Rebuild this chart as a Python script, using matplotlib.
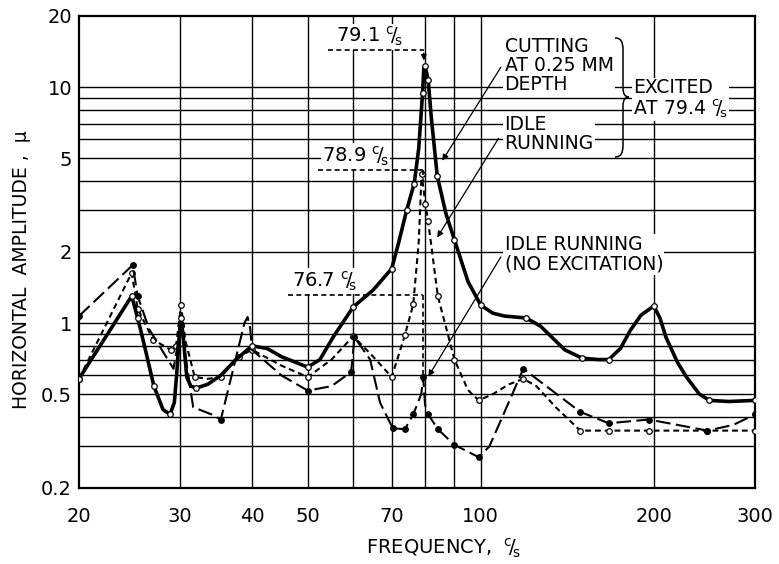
import matplotlib.pyplot as plt
from matplotlib.path import Path
import matplotlib.patches as patches
from matplotlib.ticker import NullLocator, NullFormatter

plt.rcParams['font.family'] = ['DejaVu Sans']
plt.rcParams['mathtext.fontset'] = 'dejavusans'

# cutting at 0.25 mm depth (solid)
cut_freq = [20, 24.7, 25.3, 26.0, 27.0, 28.0, 28.8, 29.3, 29.6, 29.9,
            30.1, 30.4, 30.8, 31.3, 32, 33.5, 35.3, 37.5, 40, 42.5,
            45, 50, 52.5, 55.5, 60, 65, 70, 72, 74.3, 76.6,
            78, 79.2, 79.6, 80, 80.5, 81, 82, 84, 87, 90,
            95, 100, 105, 110, 120, 127, 133, 140, 150, 160,
            167, 175, 182, 190, 200, 205, 210, 220, 228, 240,
            250, 270, 300]
cut_amp = [0.58, 1.30, 1.05, 0.80, 0.54, 0.43, 0.41, 0.46, 0.62, 0.90,
           1.05, 0.85, 0.59, 0.54, 0.53, 0.55, 0.60, 0.70, 0.80, 0.78,
           0.72, 0.65, 0.70, 0.88, 1.17, 1.38, 1.70, 2.2, 3.0, 3.9,
           5.5, 9.4, 12.0, 12.3, 11.5, 10.7, 7.5, 4.2, 2.9, 2.25,
           1.5, 1.19, 1.10, 1.07, 1.05, 0.97, 0.87, 0.77, 0.71, 0.70,
           0.70, 0.78, 0.93, 1.08, 1.18, 1.05, 0.87, 0.68, 0.59, 0.50,
           0.47, 0.465, 0.47]
cut_mark_freq = [20, 24.7, 25.3, 27.0, 28.8, 30.1, 32, 40, 50, 60, 70, 74.3, 76.6, 79.2,
                 80, 81, 84, 90, 100, 120, 150, 167, 200, 250, 300]

# idle running, excited (short dash)
idle_freq = [20, 24.7, 25.3, 26.9, 28.9, 29.5, 30.1, 30.6, 31.8, 33.5,
             35.3, 37.9, 40, 45, 50, 55, 60, 65, 70, 73.8,
             76.3, 78.0, 78.9, 80.1, 81, 84.2, 90, 95, 99.2, 105,
             112, 118.6, 125, 135, 149, 167, 196, 248, 300]
idle_amp = [0.58, 1.63, 1.15, 0.85, 0.77, 0.80, 1.19, 0.85, 0.59, 0.58,
            0.59, 0.72, 0.77, 0.66, 0.59, 0.70, 0.88, 0.72, 0.59, 0.89,
            1.20, 2.2, 4.3, 3.2, 2.7, 1.30, 0.70, 0.52, 0.47, 0.50,
            0.55, 0.58, 0.54, 0.44, 0.35, 0.35, 0.35, 0.35, 0.35]
idle_mark_freq = [20, 24.7, 25.3, 26.9, 28.9, 29.5, 30.1, 31.8, 35.3, 37.9, 40, 50, 60, 70,
                  73.8, 76.3, 78.9, 80.1, 81, 84.2, 90, 99.2, 118.6, 149, 167, 196, 248, 300]

# idle running, no excitation (long dash)
noex_freq = [20, 24.8, 25.3, 26.5, 29.2, 30.1, 30.7, 31.6, 34, 35.3,
             37.5, 38.8, 39.3, 39.7, 40, 45, 50, 55, 59.5, 60.3,
             64.2, 66.8, 70.3, 73.8, 76.3, 78.8, 79.4, 80, 81, 84.2,
             89.9, 99.2, 103.5, 110, 118.6, 130, 149, 167, 196, 220,
             248, 275, 300]
noex_amp = [1.07, 1.76, 1.30, 0.94, 0.64, 0.98, 0.70, 0.44, 0.41, 0.39,
            0.71, 1.00, 1.06, 0.95, 0.77, 0.60, 0.517, 0.54, 0.62, 0.87,
            0.70, 0.46, 0.358, 0.355, 0.41, 0.50, 0.59, 0.45, 0.41, 0.355,
            0.305, 0.27, 0.30, 0.42, 0.64, 0.54, 0.42, 0.376, 0.39, 0.37,
            0.35, 0.37, 0.41]
noex_mark_freq = [20, 24.8, 25.3, 30.1, 35.3, 50, 59.5, 60.3, 70.3, 73.8, 76.3, 79.4, 81,
                  84.2, 89.9, 99.2, 118.6, 149, 167, 196, 248, 300]

xtick_vals = [20, 30, 40, 50, 70, 100, 200, 300]
xtick_labels = ['20', '30', '40', '50', '70', '100', '200', '300']
ytick_vals = [0.2, 0.5, 1, 2, 5, 10, 20]
ytick_labels = ['0.2', '0.5', '1', '2', '5', '10', '20']
grid_x = [30, 40, 50, 60, 70, 80, 90, 100, 200]
grid_y = [0.3, 0.4, 0.5, 0.6, 0.7, 0.8, 0.9, 1, 2, 3, 4, 5, 6, 7, 8, 9, 10]

fig = plt.figure(figsize=(7.79, 5.64), dpi=100)
ax = fig.add_axes([0.1014, 0.1348, 0.8678, 0.8369])
ax.set_xscale('log')
ax.set_yscale('log')
ax.set_xlim(20, 300)
ax.set_ylim(0.2, 20)

for v in grid_x:
    ax.axvline(v, color='black', lw=1.0, zorder=1)
for h in grid_y:
    ax.axhline(h, color='black', lw=1.0, zorder=1)

ax.xaxis.set_minor_locator(NullLocator())
ax.yaxis.set_minor_locator(NullLocator())
ax.xaxis.set_minor_formatter(NullFormatter())
ax.yaxis.set_minor_formatter(NullFormatter())
ax.set_xticks(xtick_vals)
ax.set_xticklabels(xtick_labels)
ax.set_yticks(ytick_vals)
ax.set_yticklabels(ytick_labels)
ax.tick_params(axis='x', length=0, pad=14, labelsize=14)
ax.tick_params(axis='y', length=0, pad=5, labelsize=14)
for s in ax.spines.values():
    s.set_linewidth(1.6)

# curves
ax.plot(cut_freq, cut_amp, color='black', lw=2.6, marker='o', ms=4, mfc='white',
        mec='black', mew=0.9, markevery=[cut_freq.index(f) for f in cut_mark_freq], zorder=5)
ax.plot(idle_freq, idle_amp, color='black', lw=1.5, ls=(0, (2.8, 1.9)), marker='o', ms=4,
        mfc='white', mec='black', mew=0.9,
        markevery=[idle_freq.index(f) for f in idle_mark_freq], zorder=4)
ax.plot(noex_freq, noex_amp, color='black', lw=1.5, ls=(0, (7, 2.6)), marker='o', ms=4,
        mfc='black', mec='black', mew=0.9,
        markevery=[noex_freq.index(f) for f in noex_mark_freq], zorder=4)

box = dict(facecolor='white', edgecolor='none', pad=1.0)
cs = r'$^{\mathrm{c}}\!/\!_{\mathrm{s}}$'

# peak frequency labels
def peak_label(text, xt, yt, x0, x1, yl, yend, arrow=False):
    ax.text(xt, yt, text, fontsize=14, ha='left', va='bottom', bbox=box, zorder=6)
    ax.plot([x0, x1], [yl, yl], color='black', lw=1.2, ls=(0, (3, 2)), zorder=6)
    if arrow:
        ax.annotate('', xy=(x1, yend), xytext=(x1, yl),
                    arrowprops=dict(arrowstyle='-|>', lw=1.0, color='black', mutation_scale=8),
                    zorder=6)
    else:
        ax.plot([x1, x1], [yl, yend], color='black', lw=1.2, ls=(0, (3, 2)), zorder=6)

peak_label('79.1 ' + cs, 56.0, 14.6, 54.2, 79.6, 14.3, 12.6, arrow=True)
peak_label('78.9 ' + cs, 53.0, 4.55, 52.1, 79.4, 4.45, 4.0)
peak_label('76.7 ' + cs, 47.0, 1.34, 46.2, 79.4, 1.31, 0.59)

# curve labels
ax.text(110, 16.3, 'CUTTING\nAT 0.25 MM\nDEPTH', fontsize=13.5, ha='left', va='top',
        linespacing=1.0, bbox=box, zorder=6)
ax.text(110, 7.6, 'IDLE\nRUNNING', fontsize=13.5, ha='left', va='top',
        linespacing=1.0, bbox=box, zorder=6)
ax.text(184, 10.9, 'EXCITED\nAT 79.4 ' + cs, fontsize=13.5, ha='left', va='top',
        linespacing=1.0, bbox=box, zorder=6)
ax.text(110, 2.36, 'IDLE RUNNING\n(NO EXCITATION)', fontsize=13.5, ha='left', va='top',
        linespacing=1.05, bbox=box, zorder=6)

leader = dict(arrowstyle='-|>', lw=0.9, color='black', mutation_scale=9)
ax.annotate('', xy=(85.2, 4.76), xytext=(109, 12.4), arrowprops=leader, zorder=6)
ax.annotate('', xy=(83.5, 2.25), xytext=(108, 6.2), arrowprops=leader, zorder=6)
ax.annotate('', xy=(80.6, 0.58), xytext=(109, 1.95), arrowprops=leader, zorder=6)

# brace between the two excited labels and "EXCITED"
def px(x, y):
    return ((x - 79) / 676.0, (488 - y) / 472.0)

brace_pts = [(615, 38), (621, 38), (623, 42), (623, 50), (623, 88),
             (623, 94), (625, 97), (629, 97), (625, 97), (623, 100), (623, 106),
             (623, 145), (623, 153), (621, 157), (615, 157)]
brace_codes = [Path.MOVETO, Path.CURVE4, Path.CURVE4, Path.CURVE4, Path.LINETO,
               Path.CURVE4, Path.CURVE4, Path.CURVE4, Path.CURVE4, Path.CURVE4, Path.CURVE4,
               Path.LINETO, Path.CURVE4, Path.CURVE4, Path.CURVE4]
brace = patches.PathPatch(Path([px(*p) for p in brace_pts], brace_codes), fill=False,
                          lw=1.1, color='black', transform=ax.transAxes, zorder=7)
ax.add_patch(brace)

fig.text(0.5687, 0.027, 'FREQUENCY,  ' + cs, fontsize=14, ha='center', va='center')
fig.text(0.028, 0.522, 'HORIZONTAL  AMPLITUDE ,  μ', fontsize=13.5, rotation=90,
         ha='center', va='center')

fig.savefig('out.png', dpi=100)
